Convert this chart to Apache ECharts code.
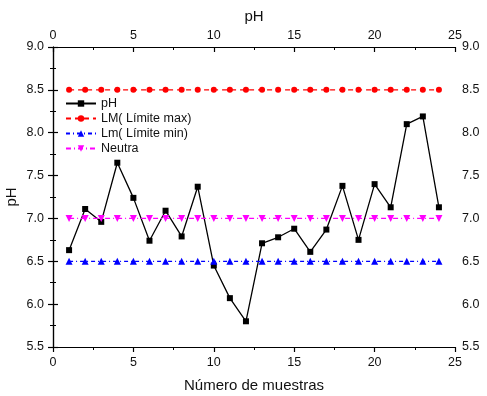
<!DOCTYPE html>
<html><head><meta charset="utf-8">
<script src="https://cdn.jsdelivr.net/npm/echarts@6/dist/echarts.min.js"></script>
<style>html,body{margin:0;padding:0;background:#fff}#c{width:487px;height:396px}</style>
</head><body><div id="c"></div>
<script>
const samples = [1,2,3,4,5,6,7,8,9,10,11,12,13,14,15,16,17,18,19,20,21,22,23,24];
const phValues = [6.63,7.11,6.96,7.65,7.24,6.74,7.09,6.79,7.37,6.45,6.07,5.80,6.71,6.78,6.88,6.61,6.87,7.38,6.75,7.40,7.13,8.10,8.19,7.13];
const limitMax = 8.5;
const limitMin = 6.5;
const neutral = 7.0;
const seriesNames = ['pH','LM( Límite max)','Lm( Límite min)','Neutra'];
const xTitle = 'Número de muestras';
const yTitle = 'pH';
const topTitle = 'pH';

const font = 'Liberation Sans, Arial, sans-serif';
const pairs = v => samples.map((s,i)=>[s, Array.isArray(v)? v[i] : v]);
const axisLine = {show:true, lineStyle:{color:'#000', width:1.2}};
const tick = inside => ({show:true, inside, length:5, lineStyle:{color:'#000', width:1.2}});
const minor = {show:true, splitNumber:2, length:3, lineStyle:{color:'#000', width:1}};
const lbl = {color:'#111', fontSize:12.5, fontFamily:font};
const nameStyle = {fontFamily:font, fontSize:15, color:'#111'};

const xBase = {type:'value', min:0, max:25, interval:5, axisLine, minorTick:minor, splitLine:{show:false}};
const yBase = {type:'value', min:5.5, max:9.0, interval:0.5, axisLine, axisTick:tick(false), minorTick:minor, splitLine:{show:false}};

const chart = echarts.init(document.getElementById('c'));
chart.setOption({
  animation:false,
  grid:{left:53, right:32, top:47, bottom:49, containLabel:false, outerBoundsMode:'none'},
  legend:{left:60, top:92, orient:'vertical', itemGap:2, itemWidth:30, itemHeight:8,
    textStyle:{fontFamily:font, fontSize:12.5, color:'#111'}, data:seriesNames},
  xAxis:[
    Object.assign({}, xBase, {position:'bottom', axisTick:tick(false), axisLabel:Object.assign({}, lbl, {margin:9}),
      name:xTitle, nameLocation:'middle', nameGap:31, nameTextStyle:nameStyle}),
    Object.assign({}, xBase, {position:'top', axisTick:tick(true), axisLabel:Object.assign({}, lbl, {margin:5}),
      name:topTitle, nameLocation:'middle', nameGap:23, nameTextStyle:nameStyle})
  ],
  yAxis:[
    Object.assign({}, yBase, {position:'left', axisLabel:Object.assign({}, lbl, {margin:9, formatter:v=>v.toFixed(1)}),
      name:yTitle, nameLocation:'middle', nameGap:34, nameMoveOverlap:false, nameTextStyle:nameStyle}),
    Object.assign({}, yBase, {position:'right', axisLabel:Object.assign({}, lbl, {margin:7, formatter:v=>v.toFixed(1)})})
  ],
  series:[
    {name:seriesNames[0], type:'line', data:pairs(phValues), symbol:'rect', symbolSize:6,
      lineStyle:{color:'#000', width:1.3}, itemStyle:{color:'#000'}},
    {name:seriesNames[1], type:'line', data:pairs(limitMax), symbol:'circle', symbolSize:6,
      lineStyle:{color:'#ff0000', width:1.3, type:[5,4]}, itemStyle:{color:'#ff0000'}},
    {name:seriesNames[2], type:'line', data:pairs(limitMin), symbol:'triangle', symbolSize:7,
      lineStyle:{color:'#0000ff', width:1.3, type:[4,3,1,3]}, itemStyle:{color:'#0000ff'}},
    {name:seriesNames[3], type:'line', data:pairs(neutral), symbol:'triangle', symbolRotate:180, symbolSize:7,
      lineStyle:{color:'#ff00ff', width:1.3, type:[5,3,1,3]}, itemStyle:{color:'#ff00ff'}}
  ]
});
</script></body></html>
